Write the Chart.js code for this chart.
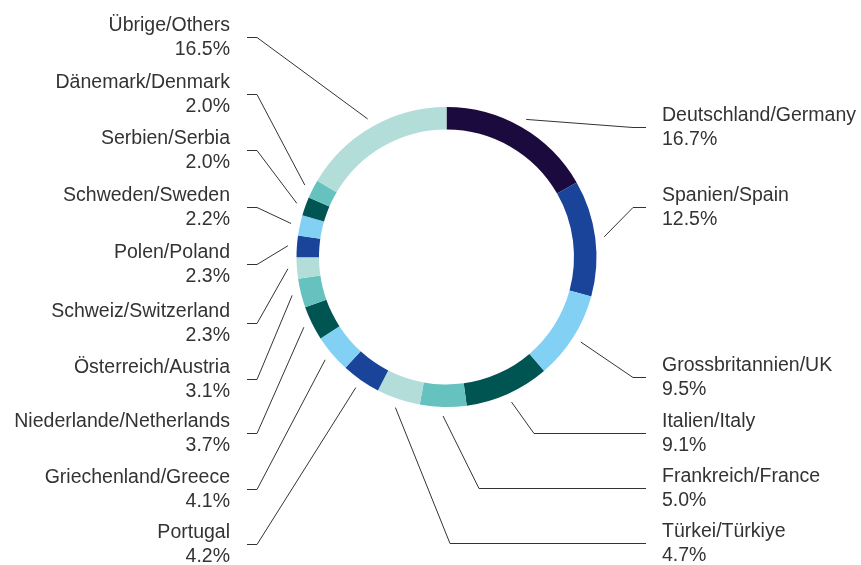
<!DOCTYPE html>
<html>
<head>
<meta charset="utf-8">
<script src="https://cdn.jsdelivr.net/npm/chart.js@4.4.1/dist/chart.umd.min.js"></script>
<style>
  html, body { margin: 0; padding: 0; background: #fff; }
  #wrap { width: 861px; height: 565px; position: relative; }
</style>
</head>
<body>
<div id="wrap"><canvas id="donut"></canvas></div>
<script>
// Data, clockwise from 12 o'clock
const countries = [
    'Deutschland/Germany', 'Spanien/Spain', 'Grossbritannien/UK', 'Italien/Italy',
    'Frankreich/France', 'Türkei/Türkiye', 'Portugal', 'Griechenland/Greece',
    'Niederlande/Netherlands', 'Österreich/Austria', 'Schweiz/Switzerland',
    'Polen/Poland', 'Schweden/Sweden', 'Serbien/Serbia', 'Dänemark/Denmark',
    'Übrige/Others'
];
const shares = [16.7, 12.5, 9.5, 9.1, 5.0, 4.7, 4.2, 4.1, 3.7, 3.1, 2.3, 2.3, 2.2, 2.0, 2.0, 16.5];
const shareLabels = ['16.7%', '12.5%', '9.5%', '9.1%', '5.0%', '4.7%', '4.2%', '4.1%',
    '3.7%', '3.1%', '2.3%', '2.3%', '2.2%', '2.0%', '2.0%', '16.5%'];

const palette = ['#1b0a3d', '#19449a', '#83d0f5', '#005452', '#66c2bf', '#b3ddd8'];
const sliceColors = shares.map((_, i) => i === 0 ? palette[0] : palette[1 + (i - 1) % 5]);

// label layout: first 6 on the right, rest on the left (top to bottom)
const rightRowY = [127, 207, 377, 433, 488, 543];
const rightElbowX = [633, 633, 633, 534, 479, 450];
const leftRowY = [544, 489, 433, 379, 323, 264, 207, 150, 94, 37]; // Portugal .. Others
const LEFT_ELBOW = 257, LEFT_END = 247, LEFT_TEXT = 230;
const RIGHT_END = 646, RIGHT_TEXT = 662;

const TEXT_COLOR = '#333333';
const FONT = '19.5px "Liberation Sans", Arial, sans-serif';

const labelPlugin = {
    id: 'leaderLabels',
    afterDraw(chart) {
        const ctx = chart.ctx;
        const arcs = chart.getDatasetMeta(0).data;
        ctx.save();
        ctx.strokeStyle = TEXT_COLOR;
        ctx.lineWidth = 1;
        ctx.fillStyle = TEXT_COLOR;
        ctx.font = FONT;
        ctx.textBaseline = 'alphabetic';
        arcs.forEach((arc, i) => {
            const p = arc.getProps(['x', 'y', 'startAngle', 'endAngle', 'outerRadius'], true);
            const mid = (p.startAngle + p.endAngle) / 2;
            const r = p.outerRadius + 9;
            const px = p.x + Math.cos(mid) * r;
            const py = p.y + Math.sin(mid) * r;
            let rowY, elbowX, endX, textX, align;
            if (i < rightRowY.length) {
                rowY = rightRowY[i];
                elbowX = rightElbowX[i];
                endX = RIGHT_END;
                textX = RIGHT_TEXT;
                align = 'left';
            } else {
                rowY = leftRowY[i - rightRowY.length];
                elbowX = LEFT_ELBOW;
                endX = LEFT_END;
                textX = LEFT_TEXT;
                align = 'right';
            }
            ctx.beginPath();
            ctx.moveTo(px, py);
            ctx.lineTo(elbowX, rowY + 0.5);
            ctx.lineTo(endX, rowY + 0.5);
            ctx.stroke();

            ctx.textAlign = align;
            ctx.fillText(countries[i], textX, rowY - 6);
            ctx.fillText(shareLabels[i], textX, rowY + 18);
        });
        ctx.restore();
    }
};

new Chart(document.getElementById('donut'), {
    type: 'doughnut',
    data: {
        labels: countries,
        datasets: [{
            data: shares,
            backgroundColor: sliceColors,
            borderWidth: 0,
            hoverOffset: 0
        }]
    },
    options: {
        responsive: true,
        maintainAspectRatio: false,
        animation: false,
        cutout: '85%',
        layout: {
            padding: { left: 296.5, right: 264.5, top: 107, bottom: 158 }
        },
        plugins: {
            legend: { display: false },
            tooltip: { enabled: false }
        }
    },
    plugins: [labelPlugin]
});
</script>
</body>
</html>
